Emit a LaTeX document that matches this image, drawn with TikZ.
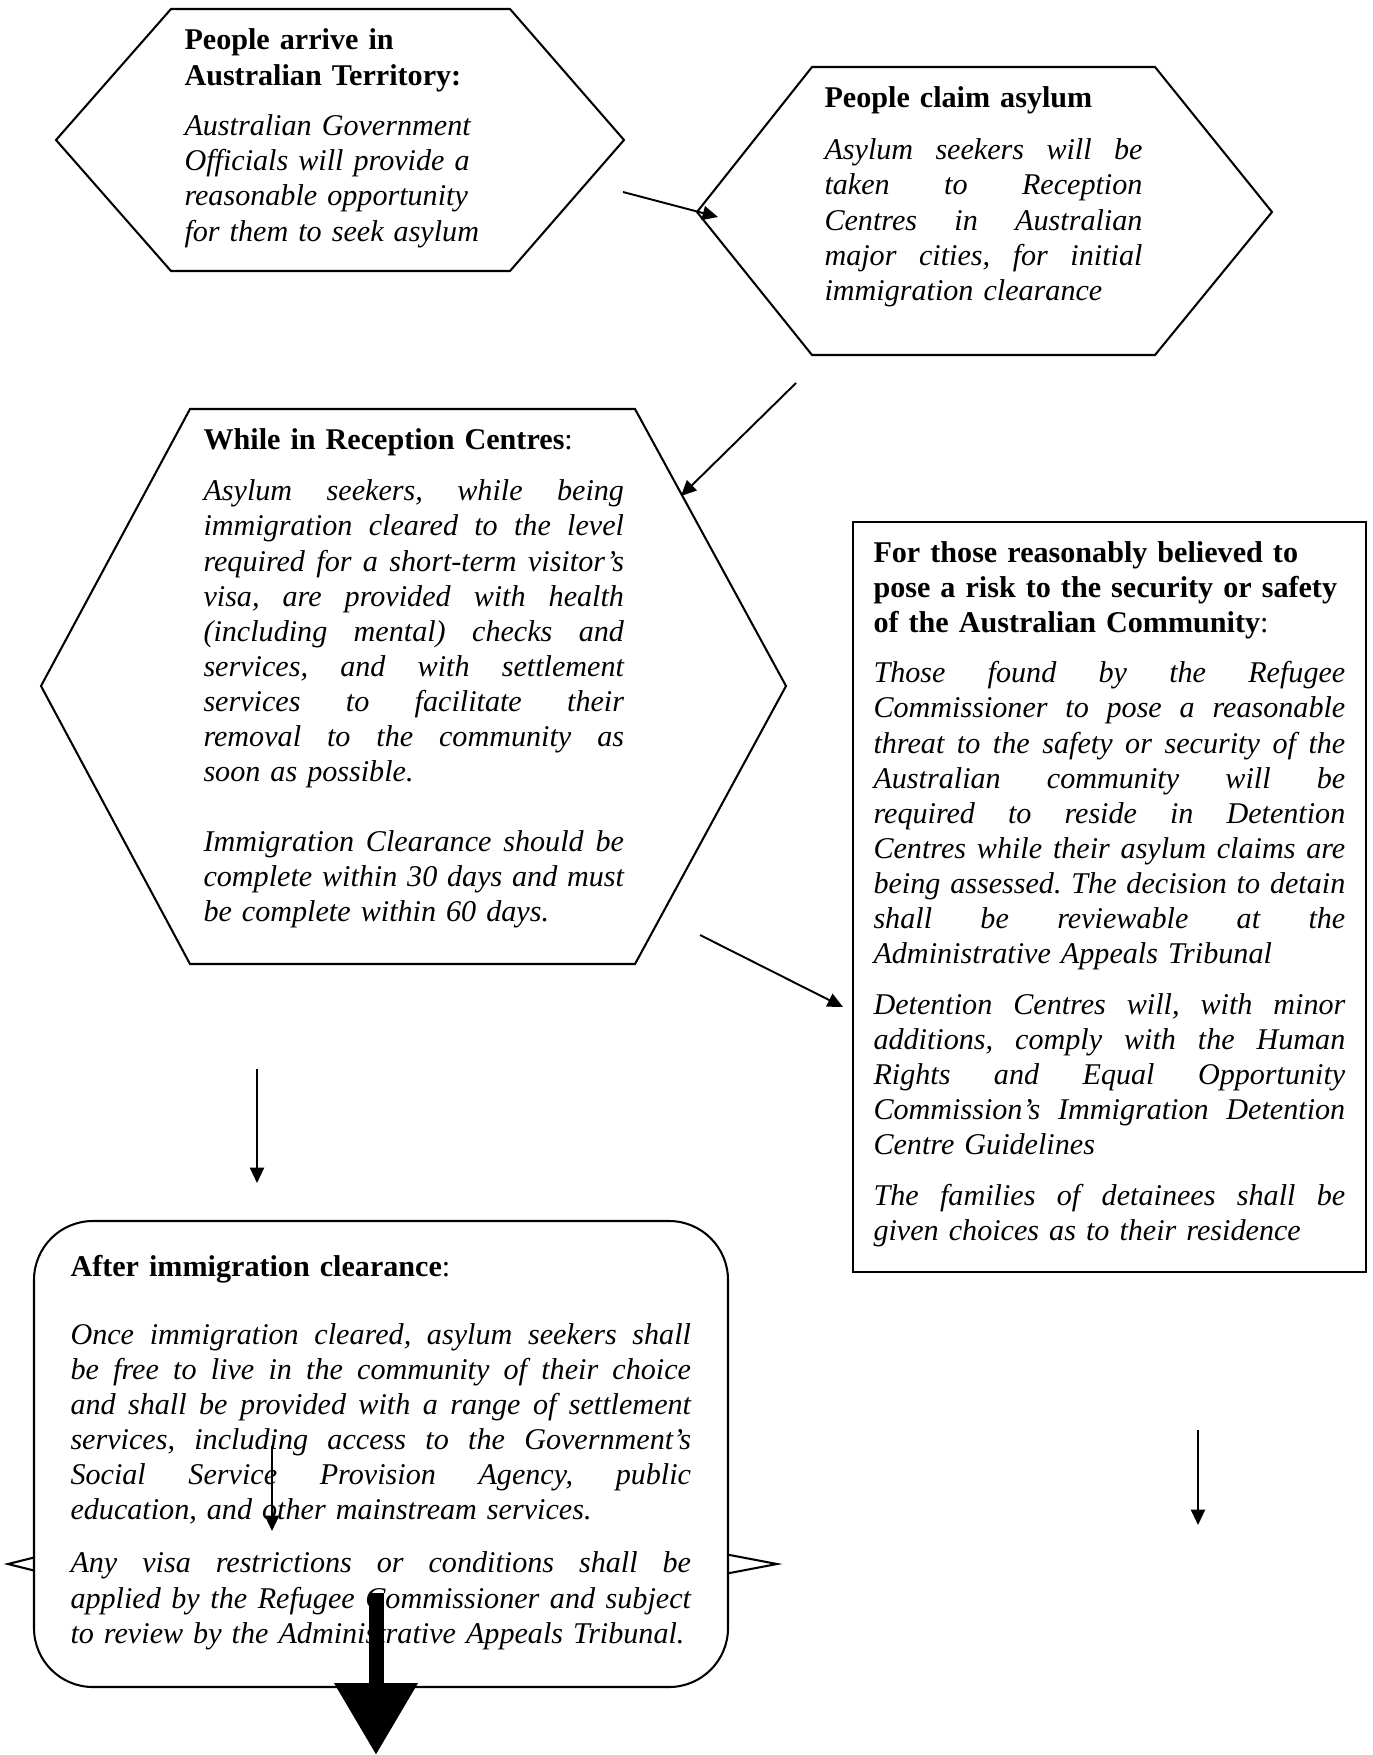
\documentclass[tikz,border=0pt]{standalone}
\usepackage{fontspec}
\setmainfont{Liberation Serif}
\usetikzlibrary{arrows.meta}
\hyphenpenalty=10000
\frenchspacing
% one justified line of a paragraph
\newcommand{\jl}[1]{\leavevmode\hbox to\hsize{\spaceskip=0.25em plus 3em minus 0.05em\relax #1}\\}

\begin{document}
\begin{tikzpicture}[x=0.39pt, y=-0.39pt,
    hexline/.style={draw, line width=0.8pt},
    txt/.style={inner sep=0pt, anchor=base west, align=left,
        font=\fontsize{11.75pt}{13.7pt}\selectfont},
    arr/.style={-{Triangle[length=6pt, width=5.5pt]}, line width=0.75pt},
    bigarr/.style={-{Triangle[length=28pt, width=31pt]}, line width=5.85pt}
]
    \path[use as bounding box, fill=white] (0,0) rectangle (1372,1755);

    % shapes
    \draw[hexline] (171,9) -- (510,9) -- (624,140) -- (510,271) -- (171,271) -- (56,140) -- cycle;
    \draw[hexline] (812,67) -- (1155,67) -- (1272,212) -- (1155,355) -- (812,355) -- (697,212) -- cycle;
    \draw[hexline] (190,409) -- (635,409) -- (786,686) -- (635,964) -- (190,964) -- (41,686) -- cycle;
    \draw[line width=1pt] (853,522) rectangle (1366,1272);
    \draw[hexline] (8,1564) -- (104,1540) -- (651,1540) -- (777,1564) -- (651,1588) -- (104,1588) -- cycle;
    \draw[hexline, fill=white, rounded corners=23pt] (34,1221) rectangle (728,1687);

    \node[txt, text width=118pt] (arrive) at (184,50) {\textbf{People arrive in}\\
        \textbf{Australian Territory:}\\[6pt]
        \itshape Australian Government\\
        Officials will provide a\\
        reasonable opportunity\\
        for them to seek asylum};

    \node[txt, text width=124pt] (claim) at (824,108) {\textbf{People claim asylum}\\[6.5pt]
        \itshape
        \jl{Asylum seekers will be}
        \jl{taken to Reception}
        \jl{Centres in Australian}
        \jl{major cities, for initial}
        immigration clearance};

    \node[txt, text width=164pt] (reception) at (203,449) {\textbf{While in Reception Centres}:\\[6.5pt]
        \itshape
        \jl{Asylum seekers, while being}
        \jl{immigration cleared to the level}
        \jl{required for a short-term visitor’s}
        \jl{visa, are provided with health}
        \jl{(including mental) checks and}
        \jl{services, and with settlement}
        \jl{services to facilitate their}
        \jl{removal to the community as}
        soon as possible.\\[13.3pt]
        \jl{Immigration Clearance should be}
        \jl{complete within 30 days and must}
        be complete within 60 days.};

    \node[txt, text width=184pt] (risk) at (873,562) {\textbf{For those reasonably believed to}\\
        \textbf{pose a risk to the security or safety}\\
        \textbf{of the Australian Community}:\\[6pt]
        \itshape
        \jl{Those found by the Refugee}
        \jl{Commissioner to pose a reasonable}
        \jl{threat to the safety or security of the}
        \jl{Australian community will be}
        \jl{required to reside in Detention}
        \jl{Centres while their asylum claims are}
        \jl{being assessed. The decision to detain}
        \jl{shall be reviewable at the}
        Administrative Appeals Tribunal\\[6pt]
        \jl{Detention Centres will, with minor}
        \jl{additions, comply with the Human}
        \jl{Rights and Equal Opportunity}
        \jl{Commission’s Immigration Detention}
        Centre Guidelines\\[6pt]
        \jl{The families of detainees shall be}
        given choices as to their residence};

    \node[txt, text width=242pt] (after) at (70,1276) {\textbf{After immigration clearance}:\\[12.9pt]
        \itshape
        \jl{Once immigration cleared, asylum seekers shall}
        \jl{be free to live in the community of their choice}
        \jl{and shall be provided with a range of settlement}
        \jl{services, including access to the Government’s}
        \jl{Social Service Provision Agency, public}
        education, and other mainstream services.\\[7pt]
        \jl{Any visa restrictions or conditions shall be}
        \jl{applied by the Refugee Commissioner and subject}
        to review by the Administrative Appeals Tribunal.};

    % connector ends
    \coordinate (a1s) at (623,192);
    \coordinate (a1e) at (718,217);
    \coordinate (a2s) at (796,383);
    \coordinate (a2e) at (681,496);
    \coordinate (a3s) at (700,935);
    \coordinate (a3e) at (843,1007);
    \coordinate (a4s) at (257,1069);
    \coordinate (a4e) at (257,1183);
    \coordinate (a5s) at (1198,1430);
    \coordinate (a5e) at (1198,1525);
    \coordinate (a6s) at (272,1446);
    \coordinate (a6e) at (272,1531);
    \coordinate (bigs) at (376,1593);
    \coordinate (bige) at (376,1755);

    \draw[arr] (a1s) -- (a1e);
    \draw[arr] (a2s) -- (a2e);
    \draw[arr] (a3s) -- (a3e);
    \draw[arr] (a4s) -- (a4e);
    \draw[arr] (a5s) -- (a5e);
    \draw[arr] (a6s) -- (a6e);
    \draw[bigarr] (bigs) -- (bige);
\end{tikzpicture}
\end{document}
